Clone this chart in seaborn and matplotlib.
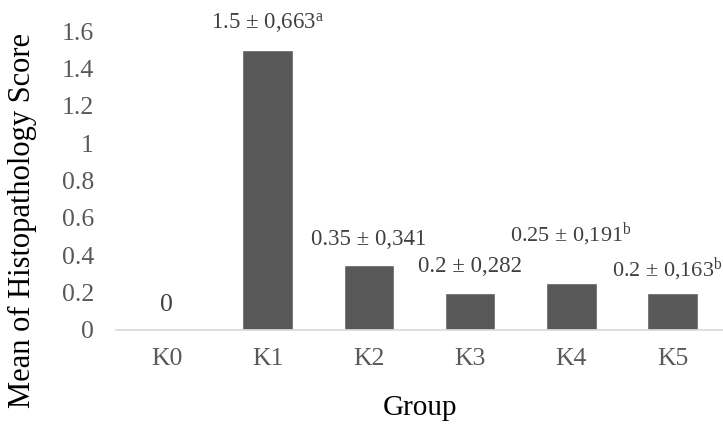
import matplotlib
matplotlib.use("Agg")
import matplotlib.pyplot as plt
import seaborn as sns
import pandas as pd

groups = ["K0", "K1", "K2", "K3", "K4", "K5"]
means = [0, 1.5, 0.35, 0.2, 0.25, 0.2]
labels = ["0", "1.5 ± 0,663$^{a}$", "0.35 ± 0,341", "0.2 ± 0,282",
          "0.25 ± 0,191$^{b}$", "0.2 ± 0,163$^{b}$"]
yticks = [0, 0.2, 0.4, 0.6, 0.8, 1, 1.2, 1.4, 1.6]
ytick_labels = ["0", "0.2", "0.4", "0.6", "0.8", "1", "1.2", "1.4", "1.6"]

sns.set_theme(style="white")
plt.rcParams['font.family'] = ['Liberation Serif', 'DejaVu Serif']
plt.rcParams['mathtext.fontset'] = 'custom'
plt.rcParams['mathtext.rm'] = 'Liberation Serif'
plt.rcParams['mathtext.it'] = 'Liberation Serif'

df = pd.DataFrame({"Group": groups, "Mean": means})

fig = plt.figure(figsize=(7.23, 4.28), dpi=100)
ax = fig.add_axes([116/723, 1 - 330/428, (723 - 116)/723, (330 - 31)/428])
sns.barplot(data=df, x="Group", y="Mean", color="#595959", saturation=1,
            width=0.5, ax=ax)
ax.set_xlim(-0.5, 5.5)
ax.set_ylim(0, 1.6)
ax.set_yticks(yticks)
ax.set_yticklabels(ytick_labels)
ax.tick_params(axis='both', length=0, labelsize=18.5, labelcolor="#595959")
ax.tick_params(axis='x', pad=13)
ax.tick_params(axis='y', pad=16)
for s in ["top", "right", "left"]:
    ax.spines[s].set_visible(False)
ax.spines["bottom"].set_color("#d9d9d9")
ax.spines["bottom"].set_linewidth(1.2)
ax.set_xlabel("Group", fontsize=21, color="black", va="center")
ax.set_ylabel("Mean of Histopathology Score", fontsize=22, color="black", va="center")
ax.xaxis.set_label_coords(0.5, (330 - 408) / 299)
ax.yaxis.set_label_coords((22 - 116) / 607, (330 - 220) / 299)

offsets = [25, 27, 25, 26, 48, 23]
xshift = [0, 0, 0, 0, 0, -5]
label_sizes = [18.5, 16.5, 16.5, 16.5, 16, 16]
for i, (m, lab) in enumerate(zip(means, labels)):
    ax.annotate(lab, (i, m), xytext=(xshift[i] * 0.72, offsets[i] * 0.72),
                textcoords="offset points",
                ha="center", va="center", fontsize=label_sizes[i], color="#404040",
                annotation_clip=False)

fig.savefig("out.png", dpi=100)
